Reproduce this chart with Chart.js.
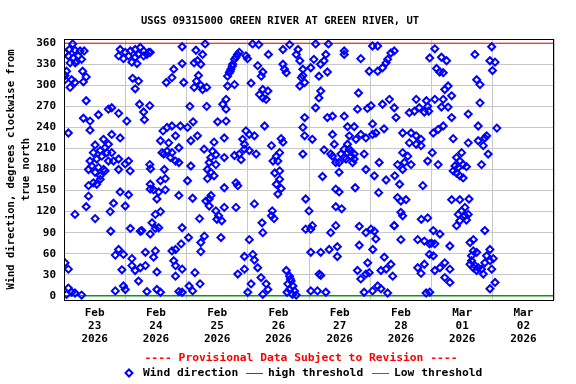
<!DOCTYPE html>
<html><head><meta charset="utf-8">
<script src="https://cdn.jsdelivr.net/npm/chart.js@4.4.1/dist/chart.umd.min.js"></script>
<style>html,body{margin:0;padding:0;background:#fff}#wrap{width:576px;height:384px}</style>
</head><body><div id="wrap"><canvas id="c" width="576" height="384"></canvas></div>
<script>
// ---------- text ----------
const chartTitle = "USGS 09315000 GREEN RIVER AT GREEN RIVER, UT";
const yAxisTitle = ["Wind direction, degrees clockwise from", "true north"];
const provisionalNote = "---- Provisional Data Subject to Revision ----";
const legendNames = ["Wind direction", "high threshold", "Low threshold"];

// ---------- axes ----------
// x values are hours since Feb 23 2026 00:00
const dayLabels = [["Feb","23","2026"],["Feb","24","2026"],["Feb","25","2026"],["Feb","26","2026"],
                   ["Feb","27","2026"],["Feb","28","2026"],["Mar","01","2026"],["Mar","02","2026"]];
const dayLabelHours = [12, 36, 60, 84, 108, 132, 156, 180];
const midnightHours = [0, 24, 48, 72, 96, 120, 144, 168, 192];
const yTickValues = [0, 30, 60, 90, 120, 150, 180, 210, 240, 270, 300, 330, 360];
const highThreshold = 360;
const lowThreshold = 0;

// ---------- wind direction observations [hour, degrees] ----------
const windFeb23to24 = [
[3.4,359],[0.4,346],[2.1,351],[4.3,350],[6.3,349],[7.9,349],[1.7,342],[3.7,339],[5.6,342],[6.9,337],[5,334],[2.4,332],[4.4,332],
[1,320],[0.4,314],[3,308],[0.4,308],[7.3,320],[8.7,312],[7.6,305],[4.3,304],[2.4,297],[8.7,278],[7.6,253],[10.2,249],[10.2,236],
[13.5,258],[17.4,266],[18.7,268],[21.4,260],[24.6,249],[1.7,232],[18.7,230],[15.5,223],[12.2,215],[17.4,216],[22,225],[11.5,204],
[14.2,207],[16.1,211],[16.8,204],[18.7,204],[14.8,199],[12.8,195],[10.2,192],[17.4,192],[19.4,192],[21.4,195],[10.9,185],[9.6,180],
[13.5,183],[15.5,180],[12.2,176],[14.2,171],[11.5,161],[9.6,157],[12.8,159],[14.2,166],[16.1,178],[21.4,180],[25.3,192],[25.9,178],
[24,188],[9.6,142],[8.7,127],[4.3,116],[12.2,110],[18.1,120],[19.4,132],[22,148],[25.3,144],[24,128],[18.3,92],[26,96],[29.9,92],
[0.4,47],[1.7,38],[20.1,58],[21.4,66],[23.3,59],[22.7,37],[26.6,53],[26.6,43],[27.9,36],[29.2,21],[29.9,40],[31.9,43],[20.1,7],
[23.3,14],[24,9],[1.7,11],[3,5],[4.3,4],[6.9,1],[1,2],[22,351],[24,347],[26,349],[27.9,351],[29.9,354],[31.2,349],[33.2,347],
[21.4,342],[23.3,338],[25.3,342],[26.6,333],[28.6,331],[29.2,344],[31.2,342],[32.5,344],[33.8,347],[27.9,340],[26.9,310],[29.2,306],
[27.9,295],[29.6,273],[33.6,271],[31.2,262],[31.5,251],[40.1,304],[42.3,311],[43,323],[46.3,331],[46.9,304],[46.3,355],[38.8,235],
[40.4,240],[42.3,242],[45.6,242],[37.8,221],[41,218],[43.7,228],[45,211],[38.4,204],[40.4,206],[42.3,204],[43.7,192],[45,190],
[41.7,197],[39.1,202],[33.6,187],[33.9,181],[39.3,180],[37.8,164],[39.7,167],[33.8,159],[35.1,151],[37.1,148],[36.4,138],[39.7,151],
[45,143],[33.8,152],[37.8,120],[35.8,116],[34.5,104],[35.8,96],[37.1,97],[33.8,88],[30.5,93],[46.3,97],[42.3,64],[43.7,66],[45.9,74],
[35.8,64],[31.9,62],[35.1,55],[36.4,34],[43.7,43],[43,50],[46.3,38],[43.7,28],[32.5,6],[36.4,9],[37.8,5],[45,6],[46.3,5]
];
const windFeb25to26 = [
[55.3,359],[51.7,350],[54.3,344],[52.3,335],[53.6,330],[51,332],[52.7,314],[51.9,306],[53.6,300],[55.9,297],[51,297],[54.3,294],
[49.3,270],[55.9,270],[63.5,280],[62.2,273],[63.5,266],[60.2,248],[63.5,249],[50.6,248],[52.3,228],[49.7,221],[48.4,240],[68,344],
[66.8,337],[66.1,330],[65.4,323],[64.8,318],[64.1,313],[67.4,340],[65.9,327],[65.1,320],[71.3,342],[71.9,338],[68.7,347],[64.1,299],
[66.8,301],[73.3,303],[75.9,328],[77.9,319],[77.3,313],[77.9,294],[76.6,287],[79.9,292],[77.9,282],[79.2,280],[80.1,344],[73.9,359],
[76.3,358],[54.9,209],[58.8,219],[62.8,225],[58.2,206],[59.5,201],[57.5,197],[56.9,190],[59.5,187],[62.8,197],[56.2,180],[57.5,176],
[58.8,171],[56.2,167],[49.7,185],[48.4,164],[66.8,200],[68.7,202],[70.7,209],[70,223],[71.3,235],[72.6,230],[74.6,228],[69.4,194],
[72.6,207],[75.3,202],[70.7,216],[78.6,242],[67.4,161],[68.1,157],[62.8,154],[50.4,139],[57.6,143],[56.9,138],[55.6,135],[56.9,128],
[59.5,121],[62.8,126],[67.4,126],[60.6,114],[59.9,109],[61.8,107],[74.6,131],[53.1,110],[77.6,104],[77.9,90],[72.6,80],[61.5,83],
[48.8,83],[55,85],[53.6,76],[53.6,63],[70.7,56],[74,59],[74.6,51],[75.9,40],[70.7,38],[68.1,31],[77.2,26],[51.3,33],[53.3,17],
[49,14],[50.4,7],[72,5],[73.3,17],[79.2,17],[79.9,9],[77.9,2],[87.1,36],[88.4,28],[89,21],[87.7,17],[89.7,14],[88.4,9],[90.3,7],
[87.4,5],[89.5,2],[91,1],[88.7,24],[85.8,351],[88.4,358],[91.7,351],[92.4,335],[91,344],[85.8,330],[86.4,323],[87.1,318],[93.6,323],
[93,311],[92.4,299],[94.3,304],[93.6,314],[85.1,224],[85.8,219],[84.5,204],[83.2,199],[81.9,192],[81.3,214],[83.8,192],[82.6,175],
[84.5,178],[84.5,166],[85.1,153],[83.8,145],[83.2,159],[81.6,121],[82.3,110],[81.3,114],[93.6,202],[94.3,254],[93.6,240],[94.3,228],
[94.7,138],[94.7,95]
];
const windFeb27to28 = [
[98.6,359],[103.6,359],[97.9,337],[100.5,330],[96.7,325],[101.9,335],[99.9,313],[103.2,319],[102.6,344],[109.8,349],[109.8,344],
[116.3,338],[100.6,292],[99.9,282],[98.6,268],[103.2,254],[105.2,256],[109.8,256],[115.4,289],[115,266],[118.9,267],[111.1,241],
[113.7,241],[120.9,245],[105.2,230],[105.9,216],[111.8,228],[114.4,223],[111.1,216],[109.8,209],[112.4,206],[113.7,202],[108.5,202],
[105.2,199],[107.8,190],[110.5,195],[113.1,190],[101.9,208],[104.5,202],[106.5,190],[107.8,176],[117.6,202],[116.3,230],[118.3,225],
[120.9,230],[122.2,232],[125.4,238],[97.3,223],[111.1,204],[112.4,199],[113.7,195],[111.8,209],[109.8,197],[101.3,170],[118.3,180],
[121.6,171],[123.5,190],[126.2,165],[129.6,171],[131.5,159],[106.5,152],[107.8,148],[114.1,154],[123.3,147],[96,121],[106.5,127],
[108.8,124],[120.3,271],[124.8,273],[127.5,280],[129.4,268],[130.1,254],[119.6,320],[122.9,320],[124.8,325],[126.2,332],[128.1,346],
[129.4,349],[126.8,337],[120.9,356],[122.9,356],[130.7,140],[132,135],[134,137],[132,119],[132.7,114],[129.4,100],[135.3,261],
[137.3,263],[139.2,268],[141.2,262],[142.5,270],[132.7,232],[136,232],[138,228],[135.3,218],[138,216],[139.9,214],[132.7,204],
[134.7,199],[136,187],[133.4,190],[132.7,180],[130.7,187],[139.9,223],[142.9,263],[142.5,192],[140.6,157],[138,280],[142,278],
[96.7,95],[97.3,100],[104.5,90],[106.5,100],[115.7,99],[118.3,90],[120.3,95],[121.6,92],[129.4,100],[132,80],[140,109],[142.5,111],
[138.6,80],[141.2,78],[143.2,74],[96.7,62],[100.6,62],[103.9,66],[107.1,70],[107.1,56],[115.7,72],[121,66],[122.2,81],[125.5,55],
[128.1,45],[126.2,38],[128.8,28],[124.2,36],[119,47],[115,36],[116.3,24],[118.3,31],[119.6,33],[138.6,40],[141.2,45],[139.9,32],
[143.2,59],[100,31],[100.6,29],[96.7,7],[99.3,7],[102.6,5],[117.6,5],[120.9,7],[122.9,14],[124.2,10],[126.8,4],[141.9,4]
];
const windMar01 = [
[145.3,352],[143.3,339],[147.9,340],[149.9,335],[146,324],[147.2,319],[148.6,318],[161,344],[167.6,355],[166.9,335],[168.9,333],
[167.9,321],[150.5,299],[149.2,294],[151.9,285],[148.6,280],[145.3,280],[150.5,269],[147.9,269],[161.7,308],[163,301],[163,275],
[158.4,259],[151.9,254],[148.6,242],[146.6,237],[144.7,232],[152.5,224],[158.4,218],[162.3,242],[162.3,221],[164.3,214],[165.6,228],
[164.9,225],[166.2,202],[163.6,187],[169.6,239],[144.3,204],[146.6,187],[155.8,204],[153.8,197],[155.1,192],[156.4,187],[153.2,185],
[154.5,183],[157.7,184],[152.5,178],[155.1,171],[156.4,168],[153.8,175],[151.9,137],[155.1,137],[158.7,138],[157.1,126],[155.8,121],
[157.1,114],[154.5,116],[158.4,116],[153.8,100],[157.7,108],[155.1,107],[144.7,93],[147.3,88],[144,75],[145.3,74],[151.2,71],
[144.7,57],[149.2,47],[151.2,38],[145.3,36],[147.3,40],[149.2,26],[151.2,19],[160.4,80],[159.1,76],[160.4,64],[159.7,57],[161.7,62],
[159.1,45],[161,43],[162.3,40],[163.6,38],[164.3,31],[164.9,47],[166.9,50],[166.9,66],[168.2,53],[165.6,57],[167.6,38],[160.4,40],
[161.7,36],[159.7,50],[164.9,93],[166.9,10],[168.9,19],[143.3,5]
];

// ---------- styling ----------
const FONT = "'DejaVu Sans Mono', 'Liberation Mono', monospace";
const BLUE = '#0000ff', RED = '#ff0000', GREEN = '#00a000', GRID = '#c8c8c8';
const X_MIN = midnightHours[0], X_MAX = midnightHours[midnightHours.length - 1];

const windPoints = [...windFeb23to24, ...windFeb25to26, ...windFeb27to28, ...windMar01]
  .map(([h, d]) => ({x: h, y: d}));
const xTickHours = [...midnightHours, ...dayLabelHours].sort((a, b) => a - b);

const decorPlugin = {
  id: 'decor',
  afterDraw(chart) {
    const ctx = chart.ctx, a = chart.chartArea;
    ctx.save();
    // frame
    ctx.strokeStyle = '#000'; ctx.lineWidth = 1;
    ctx.strokeRect(Math.round(a.left) + 0.5, Math.round(a.top) + 0.5,
                   Math.round(a.right - a.left) - 1, Math.round(a.bottom - a.top));
    ctx.fillStyle = '#000';
    // title
    ctx.font = "bold 10.5px " + FONT;
    ctx.textAlign = 'center'; ctx.textBaseline = 'middle';
    ctx.fillText(chartTitle, 280, 21);
    // y-axis title
    ctx.save();
    ctx.translate(0, (a.top + a.bottom) / 2);
    ctx.rotate(-Math.PI / 2);
    ctx.font = "bold 10.5px " + FONT;
    ctx.fillText(yAxisTitle[0], 0, 11);
    ctx.fillText(yAxisTitle[1], 0, 26);
    ctx.restore();
    // provisional note
    ctx.font = "bold 11.3px " + FONT;
    ctx.fillStyle = RED;
    ctx.fillText(provisionalNote, 301, 358);
    // legend row
    const ly = 373;
    ctx.textAlign = 'left';
    ctx.fillStyle = '#000';
    ctx.strokeStyle = BLUE; ctx.lineWidth = 2;
    ctx.beginPath();
    const r = 3.5, cx = 129;
    ctx.moveTo(cx, ly - r); ctx.lineTo(cx + r, ly); ctx.lineTo(cx, ly + r); ctx.lineTo(cx - r, ly); ctx.closePath();
    ctx.stroke();
    ctx.fillText(legendNames[0], 143, ly);
    ctx.strokeStyle = RED; ctx.lineWidth = 1;
    ctx.beginPath(); ctx.moveTo(246, ly + 0.5); ctx.lineTo(263, ly + 0.5); ctx.stroke();
    ctx.fillText(legendNames[1], 268, ly);
    ctx.strokeStyle = GREEN; ctx.lineWidth = 1;
    ctx.beginPath(); ctx.moveTo(372, ly + 0.5); ctx.lineTo(389, ly + 0.5); ctx.stroke();
    ctx.fillText(legendNames[2], 394, ly);
    ctx.restore();
  }
};

new Chart(document.getElementById('c').getContext('2d'), {
  type: 'scatter',
  data: {
    datasets: [
      {label: legendNames[0], data: windPoints, pointStyle: 'rectRot', pointRadius: 3.5,
       borderColor: BLUE, backgroundColor: 'rgba(0,0,0,0)', borderWidth: 2, showLine: false, order: 0},
      {label: legendNames[1], type: 'line', data: [{x: X_MIN, y: highThreshold}, {x: X_MAX, y: highThreshold}],
       borderColor: RED, borderWidth: 1, pointRadius: 0, order: 1},
      {label: legendNames[2], type: 'line', data: [{x: X_MIN, y: lowThreshold}, {x: X_MAX, y: lowThreshold}],
       borderColor: GREEN, borderWidth: 1.5, pointRadius: 0, order: 1}
    ]
  },
  options: {
    responsive: false, animation: false, devicePixelRatio: 1,
    layout: {padding: {top: 39, right: 22, left: 0, bottom: 0}},
    plugins: {legend: {display: false}, tooltip: {enabled: false}, title: {display: false}},
    scales: {
      x: {
        type: 'linear', min: X_MIN, max: X_MAX,
        afterBuildTicks: s => { s.ticks = xTickHours.map(v => ({value: v})); },
        afterFit: s => { s.height = 84; },
        grid: {color: c => (c.tick && midnightHours.includes(c.tick.value)) ? GRID : 'rgba(0,0,0,0)',
               drawTicks: false, lineWidth: 1},
        border: {display: false},
        ticks: {autoSkip: false, maxRotation: 0, minRotation: 0, padding: 7, color: '#000',
                font: {family: FONT, size: 11, weight: 'bold', lineHeight: 1.182},
                callback: v => { const i = dayLabelHours.indexOf(v); return i >= 0 ? dayLabels[i] : ''; }}
      },
      y: {
        type: 'linear', min: -6, max: 366,
        afterBuildTicks: s => { s.ticks = yTickValues.map(v => ({value: v})); },
        afterFit: s => { s.width = 64; },
        grid: {color: GRID, drawTicks: false, lineWidth: 1},
        border: {display: false},
        ticks: {padding: 8, color: '#000', font: {family: FONT, size: 11, weight: 'bold'},
                callback: v => String(v)}
      }
    }
  },
  plugins: [decorPlugin]
});
</script>
</body></html>
